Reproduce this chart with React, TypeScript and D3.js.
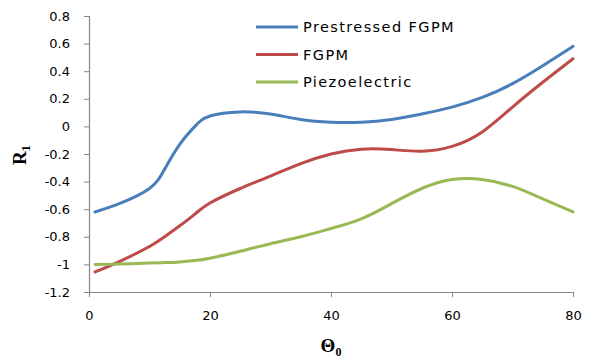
import React, { useEffect, useRef } from 'react';
import * as d3 from 'd3';

const thetas = [1, 5, 10, 12.5, 15, 17.5, 20, 25, 30, 35, 40, 45, 50, 55, 60, 65, 70, 75, 80];
const prestressed = [-0.62, -0.56, -0.45, -0.31, -0.13, 0.0, 0.075, 0.105, 0.09, 0.05, 0.03, 0.03, 0.05, 0.09, 0.14, 0.21, 0.31, 0.44, 0.58];
const fgpm = [-1.055, -0.98, -0.87, -0.8, -0.72, -0.635, -0.555, -0.45, -0.36, -0.27, -0.2, -0.165, -0.168, -0.18, -0.145, -0.04, 0.14, 0.32, 0.49];
const piezo = [-1.0, -0.997, -0.99, -0.987, -0.982, -0.972, -0.955, -0.905, -0.85, -0.8, -0.74, -0.67, -0.56, -0.45, -0.385, -0.385, -0.435, -0.525, -0.62];
const seriesNames = ['Prestressed FGPM', 'FGPM', 'Piezoelectric'];
const seriesColors = ['#4a7ebb', '#be4b48', '#98b954'];
const xTicks = [0, 20, 40, 60, 80];
const yTicks = [0.8, 0.6, 0.4, 0.2, 0, -0.2, -0.4, -0.6, -0.8, -1, -1.2];

const W = 595;
const H = 360;

// excel style labels: plain hyphen for minus, no trailing zeros
const fmt = (v: number) => String(Math.round(v * 10) / 10);

const App: React.FC = () => {
  const svgRef = useRef<SVGSVGElement>(null);

  useEffect(() => {
    if (!svgRef.current) return;
    const svg = d3.select(svgRef.current);
    svg.selectAll('*').remove();

    const x = d3.scaleLinear().domain([0, 80]).range([89, 573]);
    const y = d3.scaleLinear().domain([-1.2, 0.8]).range([292, 16]);
    const axisColor = '#868686';
    const font = 'Verdana, "DejaVu Sans", sans-serif';

    // y axis
    const yAxis = svg.append('g').attr('transform', `translate(${x(0)},0)`)
      .call(d3.axisLeft(y).tickValues(yTicks).tickSize(5).tickFormat(d => fmt(+d)));
    yAxis.select('.domain').attr('stroke', axisColor).attr('stroke-width', 1.2);
    yAxis.selectAll('.tick line').attr('stroke', axisColor);
    yAxis.selectAll('.tick text')
      .attr('x', -19).attr('fill', '#000').attr('font-size', 13).attr('font-family', font);

    // x axis
    const xAxis = svg.append('g').attr('transform', `translate(0,${y(-1.2)})`)
      .call(d3.axisBottom(x).tickValues(xTicks).tickSize(5).tickSizeOuter(0).tickFormat(d => fmt(+d)));
    xAxis.select('.domain').attr('stroke', axisColor).attr('stroke-width', 1.2);
    xAxis.selectAll('.tick line').attr('stroke', axisColor);
    xAxis.selectAll('.tick text')
      .attr('y', 19).attr('fill', '#000').attr('font-size', 13).attr('font-family', font);

    // lines
    const all = [prestressed, fgpm, piezo];
    const line = d3.line<number>()
      .x((_, i) => x(thetas[i]))
      .y(d => y(d))
      .curve(d3.curveNatural);
    all.forEach((vals, k) => {
      svg.append('path')
        .attr('d', line(vals))
        .attr('fill', 'none')
        .attr('stroke', seriesColors[k])
        .attr('stroke-width', 3)
        .attr('stroke-linecap', 'round');
    });

    // legend
    const lg = svg.append('g');
    seriesNames.forEach((name, k) => {
      const ly = 27 + k * 27.5;
      lg.append('line').attr('x1', 256).attr('x2', 298).attr('y1', ly).attr('y2', ly)
        .attr('stroke', seriesColors[k]).attr('stroke-width', 3);
      lg.append('text').attr('x', 303).attr('y', ly).attr('dy', '0.35em')
        .attr('font-size', 14.5).attr('letter-spacing', 1.4)
        .attr('font-family', font).attr('fill', '#000').text(name);
    });

    // axis titles
    const yt = svg.append('text')
      .attr('transform', 'translate(26,155) rotate(-90)')
      .attr('text-anchor', 'middle')
      .attr('font-family', '"Liberation Serif", "Times New Roman", serif')
      .attr('font-weight', 'bold').attr('font-size', 19);
    yt.append('tspan').text('R');
    yt.append('tspan').attr('font-size', 13).attr('dy', 4).text('1');

    const xt = svg.append('text')
      .attr('x', 331).attr('y', 352)
      .attr('text-anchor', 'middle')
      .attr('font-family', '"Liberation Serif", "Times New Roman", serif')
      .attr('font-weight', 'bold').attr('font-size', 19);
    xt.append('tspan').text('Θ');
    xt.append('tspan').attr('font-size', 12).attr('dy', 4).text('0');
  }, []);

  return (
    <svg ref={svgRef} width={W} height={H}
      style={{ position: 'absolute', left: 0, top: 0, background: '#fff' }} />
  );
};

export default App;
